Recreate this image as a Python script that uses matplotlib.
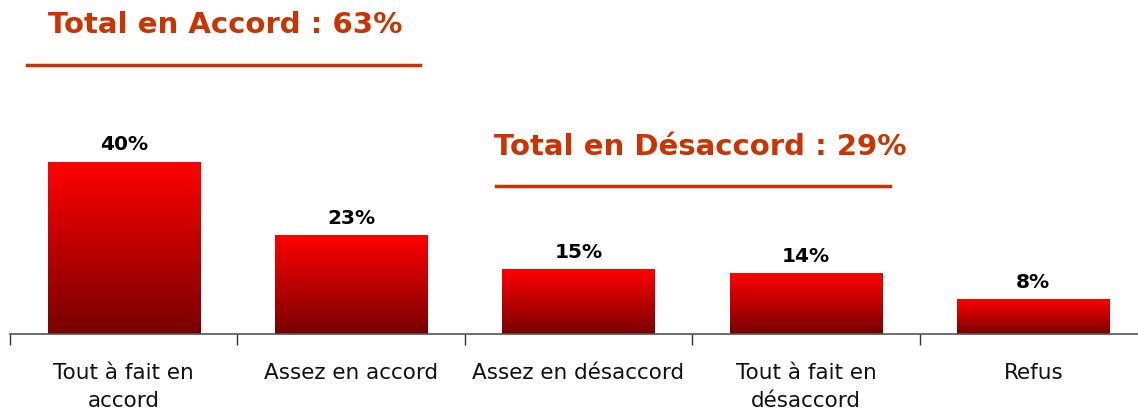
import numpy as np
import matplotlib
matplotlib.use("Agg")
from matplotlib import pyplot as plt
from matplotlib.colors import LinearSegmentedColormap
from matplotlib.lines import Line2D

categories = ["Tout à fait en\naccord", "Assez en accord", "Assez en désaccord",
              "Tout à fait en\ndésaccord", "Refus"]
values = [40, 23, 15, 14, 8]
value_labels = ["40%", "23%", "15%", "14%", "8%"]
total_accord = "Total en Accord : 63%"
total_desaccord = "Total en Désaccord : 29%"

W, H = 1138, 414
title_color = "#CC3300"

fig = plt.figure(figsize=(W / 100, H / 100), dpi=100)
ax = fig.add_axes([10 / W, (H - 335) / H, 1137 / W, 335 / H])
ax.set_xlim(-0.5, len(values) - 0.5)
ax.set_ylim(0, 335 / 4.3)

cmap = LinearSegmentedColormap.from_list("bar", ["#780000", "#FF0000"])
grad = np.linspace(0, 1, 256).reshape(-1, 1)
bar_w = 0.67
for i, v in enumerate(values):
    ax.imshow(grad, cmap=cmap, origin="lower", aspect="auto",
              extent=(i - bar_w / 2, i + bar_w / 2, 0, v), zorder=2)
    ax.text(i, v + 2.0, value_labels[i], ha="center", va="bottom",
            fontsize=14.5, fontweight="bold", color="black")

for s in ["top", "right", "left"]:
    ax.spines[s].set_visible(False)
ax.spines["bottom"].set_color("#555555")
ax.spines["bottom"].set_linewidth(1.2)
ax.set_yticks([])
ax.set_xticks(np.arange(-0.5, len(values)))
ax.set_xticklabels([])
ax.tick_params(axis="x", length=8, width=1, color="#333333", direction="out")
for i, c in enumerate(categories):
    ax.text(i, -6.6, c, ha="center", va="top", fontsize=15.5,
            color="#111111", linespacing=1.45)
ax.set_xlim(-0.5, len(values) - 0.5)

# totals with underlines
fig.text(225 / W, 1 - 25 / H, total_accord, ha="center", va="center",
         fontsize=21, fontweight="bold", color=title_color)
fig.add_artist(Line2D([27 / W, 420 / W], [1 - 66 / H, 1 - 66 / H],
                      color=title_color, lw=2.5))
fig.text(700 / W, 1 - 147 / H, total_desaccord, ha="center", va="center",
         fontsize=21, fontweight="bold", color=title_color)
fig.add_artist(Line2D([496 / W, 890 / W], [1 - 187 / H, 1 - 187 / H],
                      color=title_color, lw=2.5))

fig.savefig("out.png", dpi=100)
